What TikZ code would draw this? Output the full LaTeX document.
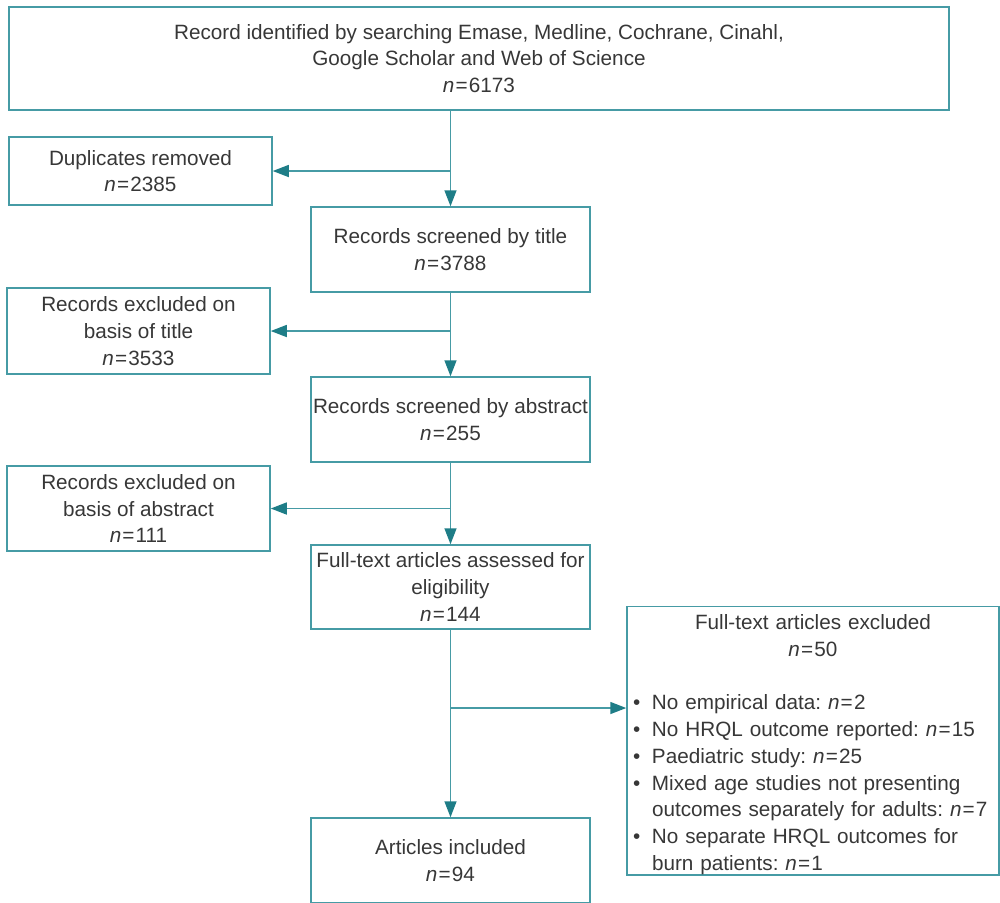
\documentclass[tikz,border=0pt]{standalone}
\usepackage{fontspec}
\setmainfont{Liberation Sans}
\usetikzlibrary{arrows.meta}
\definecolor{tline}{RGB}{70,155,165}
\definecolor{tarrow}{RGB}{30,125,135}
\definecolor{txt}{RGB}{55,55,55}
\frenchspacing
\newcommand\nn[1]{\textit{n}\kern0.6pt=\kern0.6pt#1}
\newcommand\bitem[1]{\par\hangindent=9.5pt\hangafter=1\noindent\makebox[9.5pt][l]{\textbullet}#1\par}
\begin{document}
\begin{tikzpicture}[x=0.5pt,y=-0.5pt,
  box/.style={draw=tline, line width=0.75pt, align=center, inner sep=0pt, text=txt,
    font=\fontsize{10.35}{13.4}\selectfont},
  listbox/.style={draw=tline, line width=0.75pt, inner xsep=3pt, inner ysep=0pt,
    text=txt, font=\fontsize{10.35}{13.4}\selectfont},
  line/.style={draw=tline, line width=0.75pt},
  arr/.style={line, -{Triangle[length=8pt,width=6pt,color=tarrow]}}]
\useasboundingbox (0,0) rectangle (1000,902);
\node[box, minimum width=470pt, minimum height=51.5pt] (top) at (479,58.5)
  {Record identified by searching Emase, Medline, Cochrane, Cinahl,\\Google Scholar and Web of Science\\\nn{6173}};
\node[box, minimum width=131.5pt, minimum height=34pt] (dup) at (140.5,171)
  {Duplicates removed\\\nn{2385}};
\node[box, minimum width=139.5pt, minimum height=42.5pt] (title) at (450.5,249.5)
  {Records screened by title\\\nn{3788}};
\node[box, minimum width=131.5pt, minimum height=43pt] (exTitle) at (138.5,331)
  {Records excluded on\\basis of title\\\nn{3533}};
\node[box, minimum width=139.5pt, minimum height=42.5pt] (abs) at (450.5,419.5)
  {Records screened by abstract\\\nn{255}};
\node[box, minimum width=131.5pt, minimum height=42.5pt] (exAbs) at (138.5,508.5)
  {Records excluded on\\basis of abstract\\\nn{111}};
\node[box, minimum width=139.5pt, minimum height=42pt] (full) at (450.5,587)
  {Full-text articles assessed for\\eligibility\\\nn{144}};
\node[listbox, text width=180pt, minimum height=133.5pt] (exFull) at (813,740.5)
  {\raggedright
   {\centering\rule{0pt}{11.5pt}Full-text articles excluded\\\nn{50}\par}
   \mbox{}\par
   \bitem{No empirical data: \nn{2}}
   \bitem{No HRQL outcome reported: \nn{15}}
   \bitem{Paediatric study: \nn{25}}
   \bitem{Mixed age studies not presenting\newline outcomes separately for adults: \nn{7}}
   \bitem{No separate HRQL outcomes for\newline burn patients: \nn{1}}};
\node[box, minimum width=139.5pt, minimum height=42.5pt] (incl) at (450.5,860.5)
  {Articles included\\\nn{94}};
\coordinate (j1) at (title.north |- dup.east);
\coordinate (j2) at (abs.north |- exTitle.east);
\coordinate (j3) at (full.north |- exAbs.east);
\coordinate (j4) at (451,708);
\draw[arr] (title.north |- top.south) -- (title.north);
\draw[arr] (j1) -- (dup.east);
\draw[arr] (title.south) -- (abs.north);
\draw[arr] (j2) -- (exTitle.east);
\draw[arr] (abs.south) -- (full.north);
\draw[arr] (j3) -- (exAbs.east);
\draw[arr] (full.south) -- (incl.north);
\draw[arr] (j4) -- (j4 -| exFull.west);
\end{tikzpicture}
\end{document}
